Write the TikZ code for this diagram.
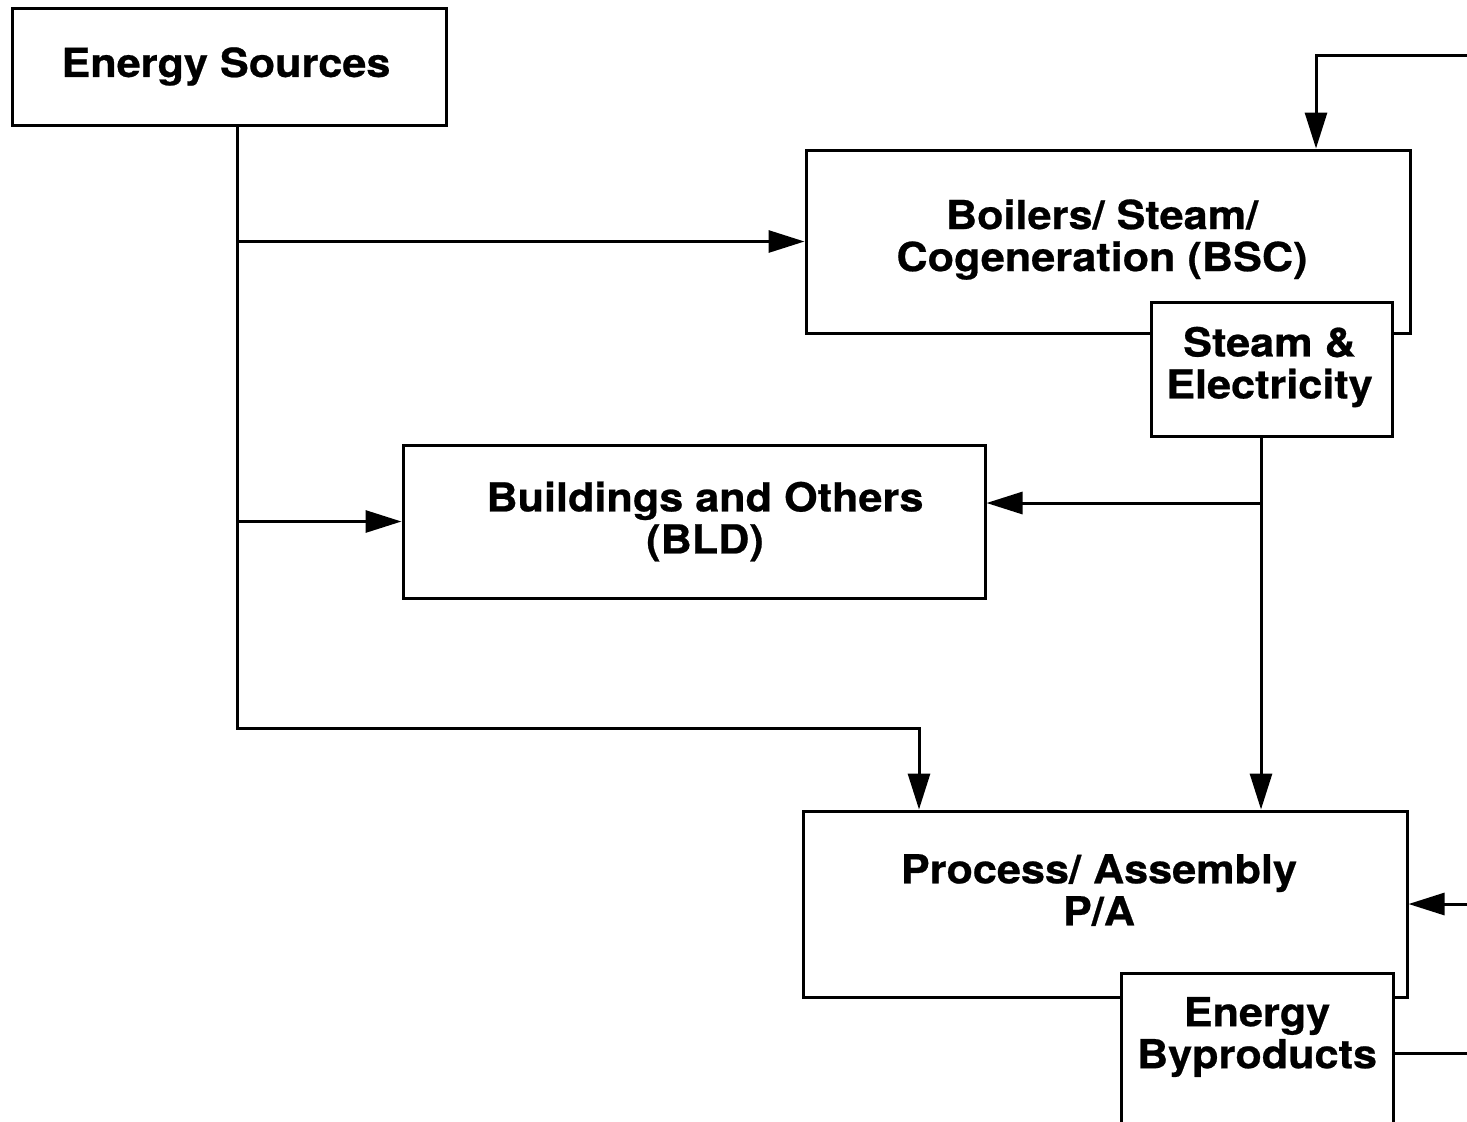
\documentclass[tikz,border=0pt]{standalone}
\usepackage{fontspec}
\setmainfont{TeX Gyre Heros}[FakeStretch=1.08, BoldFeatures={FakeBold=0.6}]
\usepackage{tikz}
\usetikzlibrary{arrows.meta,calc}

% centred lines (split by \cr), moved by (#1,#2) inside the box
\newcommand\shiftedtext[3]{\raisebox{#2}[\height][\depth]{\kern#1\vbox{\baselineskip=21pt\lineskiplimit=-30pt
  \halign{\hfil##\hfil\cr#3\crcr}}\kern-#1}}

\tikzset{
  blk/.style={draw, line width=1.5pt, fill=white, inner sep=0pt,
    font=\fontsize{20}{21}\selectfont\bfseries},
  flow/.style={line width=1.5pt, -{Triangle[length=18pt,width=11pt]}},
  link/.style={line width=1.5pt}
}

\begin{document}
\begin{tikzpicture}[x=0.5pt,y=-0.5pt]
\useasboundingbox (0,0) rectangle (1467,1121);
% blocks
\node[blk, minimum width=217pt, minimum height=58.5pt] (src) at (229,66.5) {\shiftedtext{-1.5pt}{0pt}{Energy Sources}};
\node[blk, minimum width=302pt, minimum height=91.5pt] (bsc) at (1108,241.5) {\shiftedtext{-3pt}{1pt}{Boilers/ Steam/\cr Cogeneration (BSC)}};
\node[blk, minimum width=120.5pt, minimum height=67pt] (se) at (1271.5,369) {\shiftedtext{-1pt}{1pt}{Steam \&\cr Electricity}};
\node[blk, minimum width=291pt, minimum height=76.5pt] (bld) at (694,521.5) {\shiftedtext{5.5pt}{0pt}{Buildings and Others\cr (BLD)}};
\node[blk, minimum width=302pt, minimum height=93pt] (pa) at (1105,904) {\shiftedtext{-3pt}{7pt}{Process/ Assembly\cr P/A}};
\node[blk, minimum width=136pt, minimum height=80pt] (eb) at (1257,1053) {\shiftedtext{0pt}{8pt}{Energy\cr Byproducts}};
% helper points
\coordinate (trunk) at (237,728);
\coordinate (feed) at (919,728);
\coordinate (drop) at (1261,436);
\coordinate (tap) at (1261,503);
\coordinate (retin) at (1316,55);
\coordinate (retA) at (1470,55);
\coordinate (retB) at (1470,904);
\coordinate (outB) at (1470,1053);
% supply lines
\draw[flow] (src.south -| trunk) -- (trunk) -| (pa.north -| feed);
\draw[flow] (bsc.west -| trunk) -- (bsc.west);
\draw[flow] (bld.west -| trunk) -- (bld.west);
% steam and electricity
\draw[flow] (se.south -| drop) -- (pa.north -| drop);
\draw[flow] (tap) -- (bld.east |- tap);
% returns
\draw[flow] (retA) -- (retin) -- (retin |- bsc.north);
\draw[flow] (retB) -- (pa.east);
\draw[link] (eb.east) -- (outB);
\end{tikzpicture}
\end{document}
